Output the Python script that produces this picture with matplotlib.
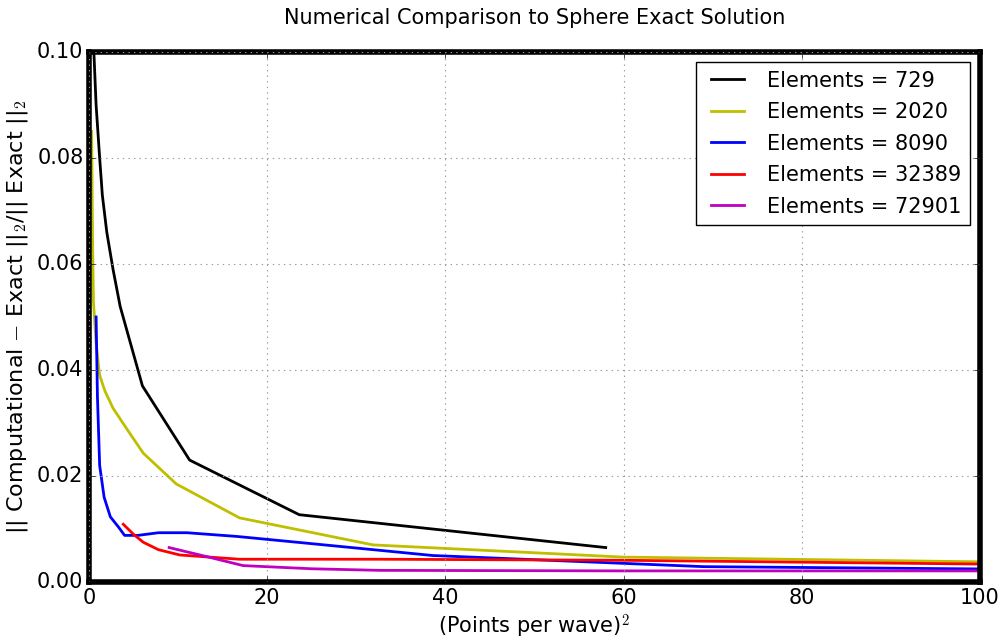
import matplotlib
matplotlib.use('Agg')
import matplotlib.pyplot as plt

# data
x_729 = [0.55, 0.8, 1.2, 1.5, 2.0, 2.7, 3.5, 6.0, 11.3, 23.6, 58.0]
y_729 = [0.100, 0.090, 0.080, 0.073, 0.066, 0.059, 0.052, 0.037, 0.023, 0.0127, 0.0065]

x_2020 = [0.3, 0.4, 0.5, 0.8, 1.2, 1.8, 2.7, 4.2, 6.1, 9.8, 16.9, 31.9, 60.0, 105.0]
y_2020 = [0.085, 0.065, 0.053, 0.045, 0.039, 0.036, 0.0328, 0.029, 0.0243, 0.0185, 0.0121, 0.0070, 0.0047, 0.0037]

x_8090 = [0.8, 0.95, 1.2, 1.7, 2.4, 3.3, 4.0, 5.5, 7.8, 11.0, 16.6, 24.0, 38.6, 69.0, 105.0]
y_8090 = [0.050, 0.035, 0.022, 0.016, 0.0123, 0.0104, 0.0088, 0.0088, 0.0093, 0.0093, 0.0086, 0.0074, 0.0050, 0.0029, 0.0024]

x_32389 = [3.85, 5.0, 6.1, 7.8, 10.2, 16.9, 32.7, 60.0, 105.0]
y_32389 = [0.0109, 0.0090, 0.0075, 0.0061, 0.0051, 0.0043, 0.0043, 0.0041, 0.0033]

x_72901 = [9.0, 13.2, 17.3, 25.0, 32.7, 60.0, 105.0]
y_72901 = [0.0065, 0.0048, 0.0031, 0.0025, 0.0022, 0.0021, 0.0021]

series = [
    (x_729, y_729, 'k', 'Elements = 729'),
    (x_2020, y_2020, 'y', 'Elements = 2020'),
    (x_8090, y_8090, 'b', 'Elements = 8090'),
    (x_32389, y_32389, 'r', 'Elements = 32389'),
    (x_72901, y_72901, 'm', 'Elements = 72901'),
]

plt.style.use('classic')
plt.rcParams['mathtext.fontset'] = 'cm'

fig = plt.figure(figsize=(10.03, 6.41), dpi=100)
ax = fig.add_axes([0.0887, 0.092, 0.8883, 0.827])

for xs, ys, c, lab in series:
    ax.plot(xs, ys, color=c, lw=2, label=lab)

ax.set_xlim(0, 100)
ax.set_ylim(0, 0.10)
ax.set_xticks([0, 20, 40, 60, 80, 100])
ax.set_yticks([0.0, 0.02, 0.04, 0.06, 0.08, 0.10])
ax.set_yticklabels(['0.00', '0.02', '0.04', '0.06', '0.08', '0.10'])
ax.tick_params(labelsize=15)
ax.grid(True, color='0.6', linestyle=':', linewidth=0.8)
for s in ax.spines.values():
    s.set_linewidth(4)

ax.set_xlabel(r'(Points per wave)$^2$', fontsize=15, labelpad=4)
ax.set_ylabel(r'|| Computational $-$ Exact ||$_2$/|| Exact ||$_2$', fontsize=16)
ax.set_title('Numerical Comparison to Sphere Exact Solution', fontsize=15, y=1.04)

ax.legend(loc='upper right', fontsize=15, handlelength=2.2, labelspacing=0.55)

fig.savefig('out.png', dpi=100)
